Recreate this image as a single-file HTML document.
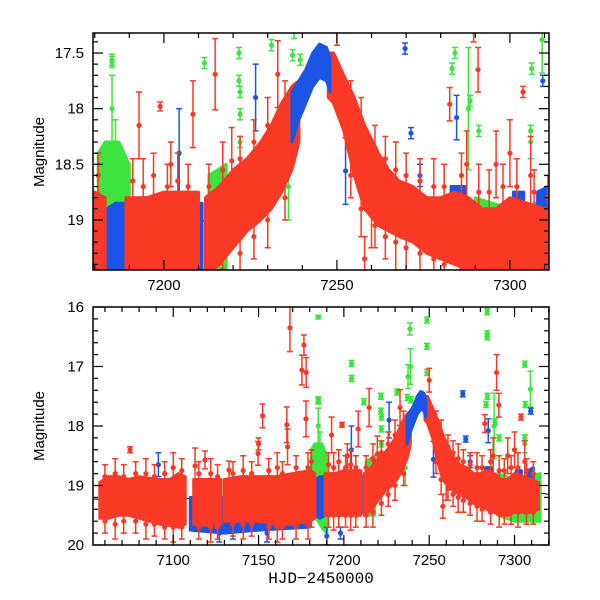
<!DOCTYPE html>
<html><head><meta charset="utf-8"><style>
html,body{margin:0;padding:0;background:#fff;}
svg{display:block;}
text{font-family:"Liberation Sans",sans-serif;fill:#000;}
</style></head>
<body>
<svg id="chart" width="600" height="600" viewBox="0 0 600 600" xmlns="http://www.w3.org/2000/svg">
<defs>
<clipPath id="clipTop"><rect x="93" y="33" width="456" height="237"/></clipPath>
<clipPath id="clipBot"><rect x="93" y="307" width="456" height="238"/></clipPath>
</defs>
<g id="top"></g>
<g id="bot"></g>
<text x="0" y="0" transform="translate(44,152) rotate(-90)" text-anchor="middle" font-size="15">Magnitude</text>
<text x="0" y="0" transform="translate(44,426) rotate(-90)" text-anchor="middle" font-size="15">Magnitude</text>
<text x="321" y="583" text-anchor="middle" font-size="16" style="font-family:'Liberation Mono',monospace">HJD−2450000</text>
</svg>
<script>
// ---- data ----
const modelT = [7050, 7200, 7212, 7220, 7228, 7235, 7241, 7245, 7247, 7250, 7255, 7262, 7270, 7290, 7320];
const modelM = [19.23, 19.2, 19.0, 18.85, 18.6, 18.3, 17.9, 17.6, 17.5, 17.7, 18.15, 18.55, 18.8, 19.0, 19.15];

const redBandT = [7057,7062,7068,7074,7080,7086,7092,7098,7103,7107,null,7112,7120,7128,null,7130,7140,7150,7160,7170,7180,7183,null,7189,7195,7200,7205,7210,null,7212,7216,7220,7224,7228,7231,7234,7237,7239,null,7247.5,7249,7252,7255,7258,7262,7265,7268,7272,7276,7280,7284,7288,7292,7296,7300,7305,7310,7314];
const redBandLo = [18.95,18.85,18.85,18.9,18.85,18.88,18.9,18.9,18.8,18.85,null,18.9,18.9,18.9,null,18.9,18.85,18.85,18.85,18.8,18.75,18.8,null,18.8,18.8,18.75,18.75,18.75,null,18.8,18.7,18.55,18.45,18.3,18.15,17.95,17.8,17.75,null,17.5,17.5,17.7,17.9,18.15,18.4,18.55,18.65,18.7,18.8,18.8,18.75,18.8,18.9,18.9,18.8,18.85,18.9,18.95];
const redBandHi = [19.55,19.55,19.5,19.5,19.55,19.6,19.65,19.67,19.7,19.65,null,19.65,19.67,19.65,null,19.6,19.6,19.6,19.65,19.65,19.6,19.55,null,19.5,19.5,19.5,19.5,19.5,null,19.5,19.4,19.25,19.1,19.0,18.9,18.75,18.55,18.3,null,17.9,17.95,18.2,18.6,18.9,19.05,19.1,19.15,19.2,19.3,19.35,19.4,19.45,19.5,19.5,19.45,19.45,19.45,19.4];

const redFT = [7060,7066,7071,7078,7084,7089,7095,7100,7105,7115,7122,7126,7135,7141,7146,7156,7161,7164,7172,7179,7181,7191,7194,7197,7201,7204,7207,7213,7217,7222,7226,7230,7235,7254,7257,7261,7264,7267,7270,7274,7278,7281,7286,7291,7294,7298,7302,7307,7311];
const redUpM = [18.85,18.8,18.85,18.8,18.8,18.85,18.8,18.7,18.75,18.8,18.8,18.85,18.8,18.75,18.8,18.75,18.7,18.8,18.7,18.7,18.6,18.65,18.7,18.6,18.7,18.65,18.7,18.7,18.55,18.45,18.3,18.15,17.95,17.95,18.15,18.35,18.45,18.55,18.6,18.65,18.7,18.7,18.6,18.75,18.75,18.7,18.7,18.75,18.8];
const redDnM = [19.6,19.65,19.6,19.6,19.65,19.65,19.7,19.7,19.7,19.7,19.7,19.7,19.65,19.65,19.65,19.7,19.7,19.7,19.7,19.65,19.5,19.5,19.5,19.5,19.5,19.5,19.5,19.5,19.45,19.3,19.15,19.0,18.8,18.6,18.9,19.05,19.15,19.2,19.25,19.3,19.35,19.4,19.45,19.45,19.45,19.45,19.45,19.45,19.45];
const redFE = [0.2,0.25,0.2,0.2,0.25,0.2,0.2,0.25,0.2,0.2,0.25,0.2,0.2,0.25,0.2,0.2,0.25,0.2,0.2,0.25,0.2,0.2,0.25,0.2,0.2,0.25,0.2,0.2,0.25,0.2,0.2,0.25,0.2,0.2,0.25,0.2,0.2,0.25,0.2,0.2,0.25,0.2,0.2,0.25,0.2,0.2,0.25,0.2,0.2];

const blueBandT = [7110,7130,7150,7180,null,7183.5,7186,7189,null,7193,7197,null,7209,7211,null,7283,7287,null,7301,7304,null,7308,7311];
const blueBandLo = [19.2,19.2,19.2,19.2,null,18.9,18.85,18.85,null,18.8,18.8,null,18.85,18.85,null,18.7,18.7,null,18.75,18.75,null,18.75,18.7];
const blueBandHi = [19.75,19.8,19.75,19.7,null,19.5,19.55,19.5,null,19.4,19.4,null,19.45,19.45,null,19.3,19.3,null,19.2,19.25,null,19.3,19.3];

const bluePeakT = [7237,7239,7241,7243,7245,7247,7248];
const bluePeakLo = [17.85,17.75,17.65,17.5,17.42,17.45,17.55];
const bluePeakHi = [18.3,18.1,17.95,17.8,17.72,17.75,17.85];

const greenBandT = [7181,7183,7187,7190,null,7213,7218,null,7290,7300,7315];
const greenBandLo = [18.4,18.3,18.3,18.5,null,18.6,18.5,null,18.8,18.9,18.8];
const greenBandHi = [19.6,19.5,19.7,19.8,null,19.5,19.5,null,19.5,19.6,19.6];

const redT = [7074.7,7112.8,7118.6,7132.7,7149.7,7150,7152.4,7166.6,7167,7168.4,7175.4,7176.6,7177.9,7177.8,7192.8,7198.9,7202,7208.4,7214.8,7219.6,7232.9,7250,7282.6,7287.5,7289.5,7290.8,7303.8,7300,7296,7306,7260,7258];
const redM = [18.4,18.67,18.57,18.74,18.46,18.3,17.83,17.98,18.35,16.35,17.06,16.64,17.1,17.88,18.15,17.98,18.5,18.05,17.69,18.47,17.69,17.23,17.96,18.5,17.1,17.65,17.85,18.4,18.5,18.6,18.9,19.35];
const redE = [0.05,0.3,0.15,0.15,0.2,0.1,0.2,0.3,0.3,0.4,0.25,0.17,0.25,0.3,0.3,0.04,0.2,0.3,0.32,0.3,0.3,0.2,0.15,0.3,0.3,0.2,0.05,0.3,0.3,0.35,0.35,0.2];

const blueT = [7091.3,7226.5,7252.5,7269.7,7271.4,7284.6,7309.5,7274,7204.4,7127,7135,7155,7190,7198];
const blueM = [18.65,17.9,18.56,17.46,18.22,18.08,17.75,18.6,18.4,19.8,19.75,19.8,19.85,19.8];
const blueE = [0.2,0.3,0.3,0.05,0.05,0.2,0.05,0.1,0.4,0.15,0.15,0.15,0.15,0.1];

const greenT = [7185,7185,7186,7183,7204.5,7204.5,7211.7,7221.7,7221.7,7222,7222,7222,7231.1,7237.2,7239.4,7238.7,7237.6,7239,7248.7,7248.7,7248.7,7236,7216,7283.3,7284.1,7284,7284,7284,7288,7288.5,7291,7306,7306.3,7306,7306,7309.3,7185,7185];
const greenM = [17.58,18.0,18.4,18.55,16.95,17.2,17.59,17.5,17.75,17.85,18.05,18.3,17.43,17.52,17.56,16.37,17.17,17.0,16.22,16.66,17.1,18.7,19.1,17.64,17.5,16.08,16.45,16.5,18.0,17.93,18.2,16.96,17.64,18.2,18.3,17.38,16.17,17.56];
const greenE = [0.05,0.3,0.3,0.2,0.05,0.05,0.05,0.05,0.05,0.05,0.05,0.05,0.05,0.05,0.05,0.1,0.2,0.3,0.05,0.05,0.05,0.3,0.35,0.05,0.05,0.05,0.05,0.05,0.55,0.05,0.05,0.05,0.05,0.05,0.15,0.3,0.03,0.05];

const topXTicks = [7200, 7250, 7300];
const topYTicks = [17.5, 18, 18.5, 19];
const topYLabels = ["17.5", "18", "18.5", "19"];
const botXTicks = [7100, 7150, 7200, 7250, 7300];
const botYTicks = [16, 17, 18, 19, 20];
const botYLabels = ["16", "17", "18", "19", "20"];

const RED = "#fa3a26", BLUE = "#1a55e6", GREEN = "#3ee33e";
const NS = "http://www.w3.org/2000/svg";

function mk(tag, parent, attrs) {
  const e = document.createElementNS(NS, tag);
  for (const k in attrs) e.setAttribute(k, attrs[k]);
  parent.appendChild(e);
  return e;
}

const panels = [
  {g: document.getElementById('top'), clip: 'clipTop', x0: 93, x1: 549, y0: 33, y1: 270,
   tmin: 7179.5, tmax: 7311.3, mmin: 17.32, mmax: 19.45,
   xt: topXTicks, xminor: 10, yt: topYTicks, yl: topYLabels, yminor: 0.1, name: 'top'},
  {g: document.getElementById('bot'), clip: 'clipBot', x0: 93, x1: 549, y0: 307, y1: 545,
   tmin: 7053, tmax: 7320.2, mmin: 16, mmax: 20,
   xt: botXTicks, xminor: 10, yt: botYTicks, yl: botYLabels, yminor: 0.2, name: 'bottom'}
];

panels.forEach(p => {
  const X = t => p.x0 + (t - p.tmin) / (p.tmax - p.tmin) * (p.x1 - p.x0);
  const Y = m => p.y0 + (m - p.mmin) / (p.mmax - p.mmin) * (p.y1 - p.y0);
  const data = mk('g', p.g, {'clip-path': 'url(#' + p.clip + ')'});
  
  

  let d = modelT.map((t, i) => (i ? 'L' : 'M') + X(t).toFixed(1) + ',' + Y(modelM[i]).toFixed(1)).join(' ');
  const ml = mk('path', data, {d: d, fill: 'none', stroke: '#000', 'stroke-width': 1});
  
  

  function band(T, LO, HI, color, nm) {
    let seg = [];
    const segs = [];
    T.forEach((t, i) => {
      if (t === null) { if (seg.length) segs.push(seg); seg = []; }
      else seg.push(i);
    });
    if (seg.length) segs.push(seg);
    segs.forEach(s => {
      const pts = [];
      s.forEach(i => pts.push(X(T[i]).toFixed(1) + ',' + Y(LO[i]).toFixed(1)));
      s.slice().reverse().forEach(i => pts.push(X(T[i]).toFixed(1) + ',' + Y(HI[i]).toFixed(1)));
      const poly = mk('polygon', data, {points: pts.join(' '), fill: color, stroke: color, 'stroke-width': 3, 'stroke-linejoin': 'round'});
      
      
    });
  }
  function points(T, M, E, color, nm) {
    T.forEach((t, i) => {
      const x = X(t), y = Y(M[i]), ya = Y(M[i] - E[i]), yb = Y(M[i] + E[i]);
      const g = mk('g', data, {stroke: color, 'stroke-width': 1.5, fill: color});
      
      
      mk('line', g, {x1: x, y1: ya, x2: x, y2: yb});
      mk('line', g, {x1: x - 3, y1: ya, x2: x + 3, y2: ya});
      mk('line', g, {x1: x - 3, y1: yb, x2: x + 3, y2: yb});
      mk('circle', g, {cx: x, cy: y, r: 2.6, stroke: 'none'});
    });
  }
  band(greenBandT, greenBandLo, greenBandHi, GREEN, 'green-band');
  band(blueBandT, blueBandLo, blueBandHi, BLUE, 'blue-band');
  points(greenT, greenM, greenE, GREEN, 'green-point');
  points(blueT, blueM, blueE, BLUE, 'blue-point');
  band(redBandT, redBandLo, redBandHi, RED, 'red-band');
  points(redFT, redUpM, redFE, RED, 'red-scatter-point');
  points(redFT, redDnM, redFE, RED, 'red-scatter-point');
  points(redT, redM, redE, RED, 'red-point');
  band(bluePeakT, bluePeakLo, bluePeakHi, BLUE, 'blue-peak-band');

  const fr = mk('rect', p.g, {x: p.x0, y: p.y0, width: p.x1 - p.x0, height: p.y1 - p.y0, fill: 'none', stroke: '#000', 'stroke-width': 1.5});
  
  

  const ticks = mk('g', p.g, {stroke: '#000', 'stroke-width': 1.2});
  
  
  for (let t = Math.ceil(p.tmin / p.xminor) * p.xminor; t <= p.tmax; t += p.xminor) {
    const major = t % 50 === 0;
    const L = major ? 10 : 5, x = X(t);
    mk('line', ticks, {x1: x, y1: p.y1, x2: x, y2: p.y1 - L});
    mk('line', ticks, {x1: x, y1: p.y0, x2: x, y2: p.y0 + L});
  }
  const n0 = Math.ceil(p.mmin / p.yminor - 1e-6), n1 = Math.floor(p.mmax / p.yminor + 1e-6);
  for (let n = n0; n <= n1; n++) {
    const m = n * p.yminor;
    const major = p.yt.some(v => Math.abs(v - m) < 1e-6);
    const L = major ? 10 : 5, y = Y(m);
    mk('line', ticks, {x1: p.x0, y1: y, x2: p.x0 + L, y2: y});
    mk('line', ticks, {x1: p.x1, y1: y, x2: p.x1 - L, y2: y});
  }
  p.xt.forEach(t => {
    const tx = mk('text', p.g, {x: X(t), y: p.y1 + 20, 'text-anchor': 'middle', 'font-size': 15});
    tx.textContent = String(t);
    
    
  });
  p.yt.forEach((m, i) => {
    const tx = mk('text', p.g, {x: p.x0 - 9, y: Y(m) + 5, 'text-anchor': 'end', 'font-size': 15});
    tx.textContent = p.yl[i];
    
    
  });
});
</script>
</body></html>
